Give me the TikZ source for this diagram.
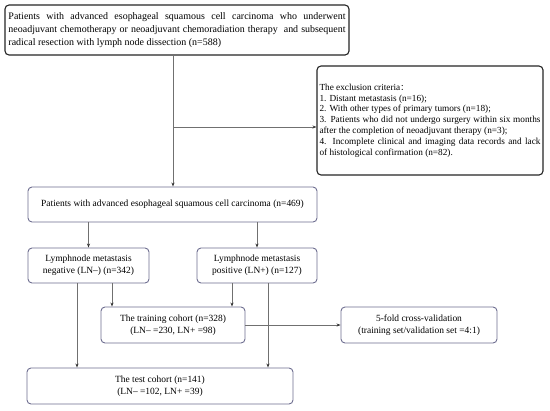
\documentclass[tikz,border=0pt]{standalone}
\usepackage{fontspec}
\setmainfont{Liberation Serif}
\newfontfamily\cjk{Noto Sans CJK SC}
\usetikzlibrary{arrows.meta}
\definecolor{bxc}{HTML}{6E6E90}
\definecolor{lnc}{HTML}{707070}
\begin{document}
\begin{tikzpicture}[x=1bp,y=-1bp,
  box/.style={draw=bxc,line width=0.9bp,rounded corners=4bp,align=center,inner sep=0pt,font=\fontsize{9.5}{12}\selectfont},
  dbox/.style={draw=black!85,line width=1.1bp,rounded corners=4bp,inner sep=0pt},
  conn/.style={draw=lnc,line width=0.8bp,-{Stealth[length=4bp,width=3bp,color=black!80]}}]
\useasboundingbox (0,0) rectangle (550,410);
\fill[white] (0,0) rectangle (550,410);
% top box
\node[dbox,minimum width=344bp,minimum height=50bp] (top) at (177,30)
  {\begin{minipage}{337bp}\fontsize{10}{13.3}\selectfont\hyphenpenalty=10000\tolerance=10000
  Patients with advanced esophageal squamous cell carcinoma who underwent\linebreak neoadjuvant chemotherapy or neoadjuvant chemoradiation therapy\ \ and subsequent\linebreak radical resection with lymph node dissection (n=588)\end{minipage}};
% exclusion box
\node[dbox,minimum width=226bp,minimum height=109bp] (excl) at (430,120.5)
  {\begin{minipage}{221bp}\fontsize{9.3}{10.9}\selectfont\hyphenpenalty=10000\tolerance=10000
  The exclusion criteria{\cjk\fontsize{8}{10}\selectfont ：}\\
  1. Distant metastasis (n=16);\\
  2. With other types of primary tumors (n=18);\\
  3. Patients who did not undergo surgery within six months\linebreak after the completion of neoadjuvant therapy (n=3);\\
  4. Incomplete clinical and imaging data records and lack\linebreak of histological confirmation (n=82).\end{minipage}};
% middle
\node[box,minimum width=289bp,minimum height=35bp] (mid) at (172.5,204.5)
  {Patients with advanced esophageal squamous cell carcinoma (n=469)};
\node[box,minimum width=121bp,minimum height=35bp] (neg) at (88.5,265.5)
  {Lymphnode metastasis\\negative (LN–) (n=342)};
\node[box,minimum width=120bp,minimum height=35bp] (pos) at (257,265.5)
  {Lymphnode metastasis\\positive (LN+) (n=127)};
\node[box,minimum width=144bp,minimum height=36bp] (train) at (173,325)
  {The training cohort (n=328)\\(LN– =230, LN+ =98)};
\node[box,minimum width=156bp,minimum height=36bp] (cv) at (419,325)
  {5-fold cross-validation\\(training set/validation set =4:1)};
\node[box,minimum width=266bp,minimum height=36bp] (test) at (160,386)
  {The test cohort (n=141)\\(LN– =102, LN+ =39)};
% connectors
\coordinate (br) at (173,127);
\draw[conn] (top.south -| br) -- (mid.north -| br);
\draw[conn] (br) -- (br -| excl.west);
\draw[conn] (mid.south -| neg.north) -- (neg.north);
\draw[conn] (mid.south -| pos.north) -- (pos.north);
\coordinate (na) at (77,0);
\coordinate (nb) at (112,0);
\coordinate (pa) at (232,0);
\coordinate (pb) at (268,0);
\draw[conn] (neg.south -| na) -- (test.north -| na);
\draw[conn] (neg.south -| nb) -- (train.north -| nb);
\draw[conn] (pos.south -| pa) -- (train.north -| pa);
\draw[conn] (pos.south -| pb) -- (test.north -| pb);
\draw[conn] (train.east) -- (cv.west);
\end{tikzpicture}
\end{document}
